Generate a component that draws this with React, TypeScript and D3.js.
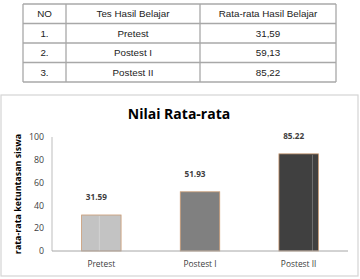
import React from "react";
import * as d3 from "d3";

// table rows
const tableHeader = ["NO", "Tes Hasil Belajar", "Rata-rata Hasil Belajar"];
const tableNo = ["1.", "2.", "3."];
const tableTests = ["Pretest", "Postest I", "Postest II"];
const tableValues = ["31,59", "59,13", "85,22"];

// chart data
const categories = ["Pretest", "Postest I", "Postest II"];
const values = [31.59, 51.93, 85.22];
const yTicks = [0, 20, 40, 60, 80, 100];
const barColors = ["#c3c3c3", "#808080", "#404040"];

const W = 360;
const H = 279;

const App = () => {
  // table layout
  const colEdges = [23, 66, 200, 336];
  const rowTop = 4;
  const rowH = 19.5;
  const tableRows = [tableHeader, ...tableNo.map((n, i) => [n, tableTests[i], tableValues[i]])];

  // chart layout
  const margin = { left: 52, right: 12, top: 138, bottom: 28 };
  const x = d3
    .scaleBand()
    .domain(categories)
    .range([margin.left, W - margin.right])
    .paddingInner(0.6)
    .paddingOuter(0.3);
  const y = d3.scaleLinear().domain([0, 100]).range([251, 137]);

  return (
    <svg
      width={W}
      height={H}
      style={{ position: "absolute", left: 0, top: 0, background: "#fff" }}
    >
      {/* table */}
      <g fontFamily="Liberation Sans, Arial, sans-serif" fontSize={9.8} fill="#222">
        {tableRows.map((row, r) =>
          row.map((cell, c) => (
            <text
              key={`${r}-${c}`}
              x={(colEdges[c] + colEdges[c + 1]) / 2}
              y={rowTop + rowH * r + rowH / 2 + 3.5}
              textAnchor="middle"
            >
              {cell}
            </text>
          ))
        )}
        {d3.range(tableRows.length + 1).map((r) => (
          <line
            key={"h" + r}
            x1={colEdges[0]}
            x2={colEdges[3]}
            y1={rowTop + rowH * r}
            y2={rowTop + rowH * r}
            stroke="#a8a8a8"
            strokeWidth={1.3}
          />
        ))}
        {colEdges.map((cx, i) => (
          <line
            key={"v" + i}
            x1={cx}
            x2={cx}
            y1={rowTop}
            y2={rowTop + rowH * tableRows.length}
            stroke="#a8a8a8"
            strokeWidth={1.3}
          />
        ))}
      </g>

      {/* chart frame */}
      <rect x={1} y={95} width={357} height={181} fill="#fff" stroke="#d4d4d4" strokeWidth={1.2} />

      <text
        x={179}
        y={119}
        textAnchor="middle"
        fontFamily="Open Sans, sans-serif"
        fontWeight="bold"
        fontSize={14}
        fill="#000"
      >
        Nilai Rata-rata
      </text>

      {/* y axis */}
      <line x1={margin.left} x2={margin.left} y1={y(100)} y2={y(0)} stroke="#bdbdbd" />
      {yTicks.map((t) => (
        <text
          key={t}
          x={44}
          y={y(t) + 3.2}
          textAnchor="end"
          fontFamily="Open Sans, sans-serif"
          fontSize={8.8}
          fill="#404040"
        >
          {t}
        </text>
      ))}
      <text
        transform={`translate(21,${(y(0) + y(100)) / 2}) rotate(-90)`}
        textAnchor="middle"
        fontFamily="Open Sans, sans-serif"
        fontWeight="bold"
        fontSize={8.9}
        fill="#000"
      >
        rata-rata ketuntasan siswa
      </text>

      {/* bars */}
      {categories.map((c, i) => (
        <g key={c}>
          <rect
            x={x(c)}
            y={y(values[i])}
            width={x.bandwidth()}
            height={y(0) - y(values[i])}
            fill={barColors[i]}
            stroke="#c99a73"
            strokeWidth={0.8}
          />
          <line
            x1={x(c)! + x.bandwidth() * (i === 2 ? 0.85 : 0.45)}
            x2={x(c)! + x.bandwidth() * (i === 2 ? 0.85 : 0.45)}
            y1={y(values[i]) + 1}
            y2={y(0)}
            stroke="#ffffff"
            strokeOpacity={i === 1 ? 0 : 0.25}
          />
          <text
            x={x(c)! + x.bandwidth() / 2 - 5}
            y={y(values[i]) - 15}
            textAnchor="middle"
            fontFamily="Open Sans, sans-serif"
            fontWeight="bold"
            fontSize={8.2}
            fill="#404040"
          >
            {values[i].toFixed(2)}
          </text>
          <text
            x={x(c)! + x.bandwidth() / 2}
            y={267}
            textAnchor="middle"
            fontFamily="Open Sans, sans-serif"
            fontSize={8.4}
            fill="#404040"
          >
            {c}
          </text>
        </g>
      ))}

      {/* x axis */}
      <line x1={margin.left} x2={348} y1={y(0)} y2={y(0)} stroke="#a6a6a6" />
    </svg>
  );
};

export default App;
